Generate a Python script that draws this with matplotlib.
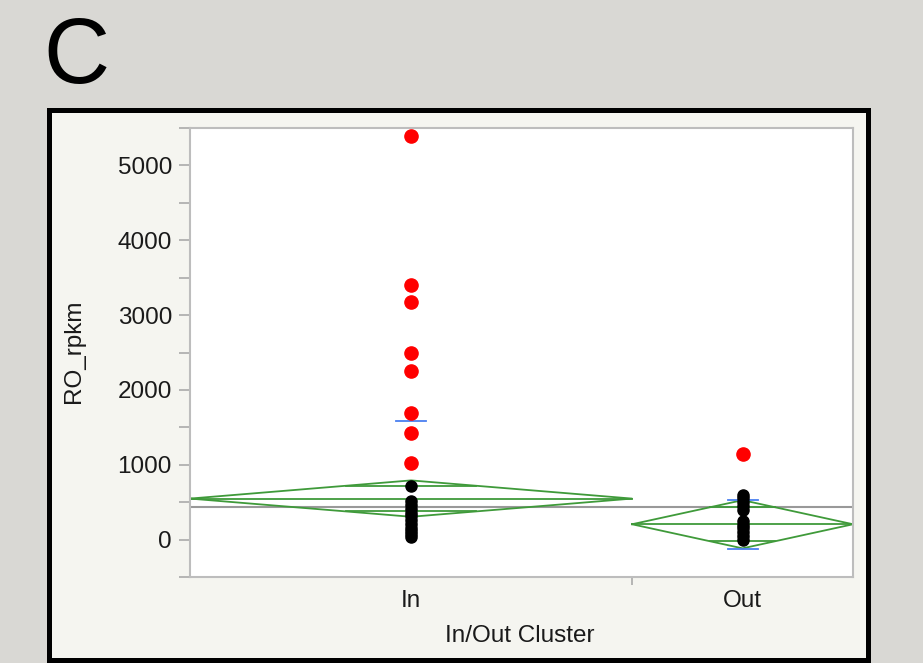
import numpy as np
import matplotlib
matplotlib.use("Agg")
import matplotlib.pyplot as plt
from matplotlib.patches import Rectangle

plt.rcParams['font.family'] = ['Liberation Sans', 'DejaVu Sans']

# groups, widths follow group size (JMP style)
groups = ['In', 'Out']
group_widths = [2, 1]

# outliers (red) and the rest (black) per group
in_red = [5400, 3400, 3170, 2500, 2250, 1690, 1420, 1030]
in_black = [722, 510, 460, 410, 360, 310, 260, 210, 160, 110, 70, 30]
out_red = [1140]
out_black = [600, 550, 500, 450, 400, 250, 200, 150, 100, 50, 0]

# means diamonds
group_means = [548, 205]
ci_half = [243, 322]
grand_mean = 441
# std dev marks visible in the frame
sd_marks = [[1591], [525, -120]]

fig = plt.figure(figsize=(9.23, 6.63), dpi=100)
fig.patch.set_facecolor('#d9d8d4')

# panel with black frame
fig.patches.append(Rectangle((0.0536, 0.0038), 0.9399 - 0.0536, 0.8348 - 0.0038,
                             transform=fig.transFigure, facecolor='#f5f5f0',
                             edgecolor='black', linewidth=3.6, zorder=-5))
fig.text(0.047, 0.875, 'C', fontsize=66, ha='left', va='baseline', color='black')

ax = fig.add_axes([0.2059, 0.1297, 0.7183, 0.6772])
ax.set_facecolor('white')

edges = np.concatenate([[0], np.cumsum(group_widths)])
centers = (edges[:-1] + edges[1:]) / 2

reds = [in_red, out_red]
blacks = [in_black, out_black]
green = '#3f9a3a'
for i in range(len(groups)):
    lo, hi, c = edges[i], edges[i + 1], centers[i]
    m, h = group_means[i], ci_half[i]
    # diamond
    ax.plot([lo, c, hi, c, lo], [m, m + h, m, m - h, m], color=green, lw=1.3, zorder=2)
    ax.plot([lo, hi], [m, m], color=green, lw=1.3, zorder=2)
    # overlap marks
    k = 1 / np.sqrt(2)
    half_w = (hi - lo) / 2 * (1 - k)
    for s in (1, -1):
        ax.plot([c - half_w, c + half_w], [m + s * h * k] * 2, color=green, lw=1.3, zorder=2)
    # std dev marks
    for v in sd_marks[i]:
        ax.plot([c - 0.068, c + 0.068], [v, v], color='#4a7ff0', lw=1.3, zorder=3)
    ax.plot([c] * len(blacks[i]), blacks[i], 'o', color='black', ms=8, zorder=4)
    ax.plot([c] * len(reds[i]), reds[i], 'o', color='#ff0000', ms=9.5, zorder=4)

ax.axhline(grand_mean, color='#999999', lw=1.5, zorder=1)

ax.set_xlim(0, 3)
ax.set_ylim(-490, 5500)
ax.set_yticks([0, 1000, 2000, 3000, 4000, 5000])
ax.set_yticks(np.arange(-500, 5501, 500), minor=True)
ax.set_xticks(centers)
ax.set_xticklabels(groups)
ax.set_xticks(edges[1:-1], minor=True)

for sp in ax.spines.values():
    sp.set_color('#bdbdbd')
    sp.set_linewidth(1.5)
ax.tick_params(axis='y', which='both', length=8, width=1.2, color='#aaaaaa',
               labelsize=17.5, pad=5, labelcolor='#1a1a1a')
ax.tick_params(axis='x', which='major', length=0, labelsize=17.5, pad=9,
               labelcolor='#1a1a1a')
ax.tick_params(axis='x', which='minor', length=6, width=1.2, color='#aaaaaa')

fig.text(0.080, 0.470, 'RO_rpkm', rotation=90, fontsize=17.5, ha='center',
         va='center', color='#1a1a1a')
fig.text(0.563, 0.041, 'In/Out Cluster', fontsize=17.5, ha='center',
         va='center', color='#1a1a1a')

fig.savefig('out.png', dpi=100, facecolor=fig.get_facecolor())
